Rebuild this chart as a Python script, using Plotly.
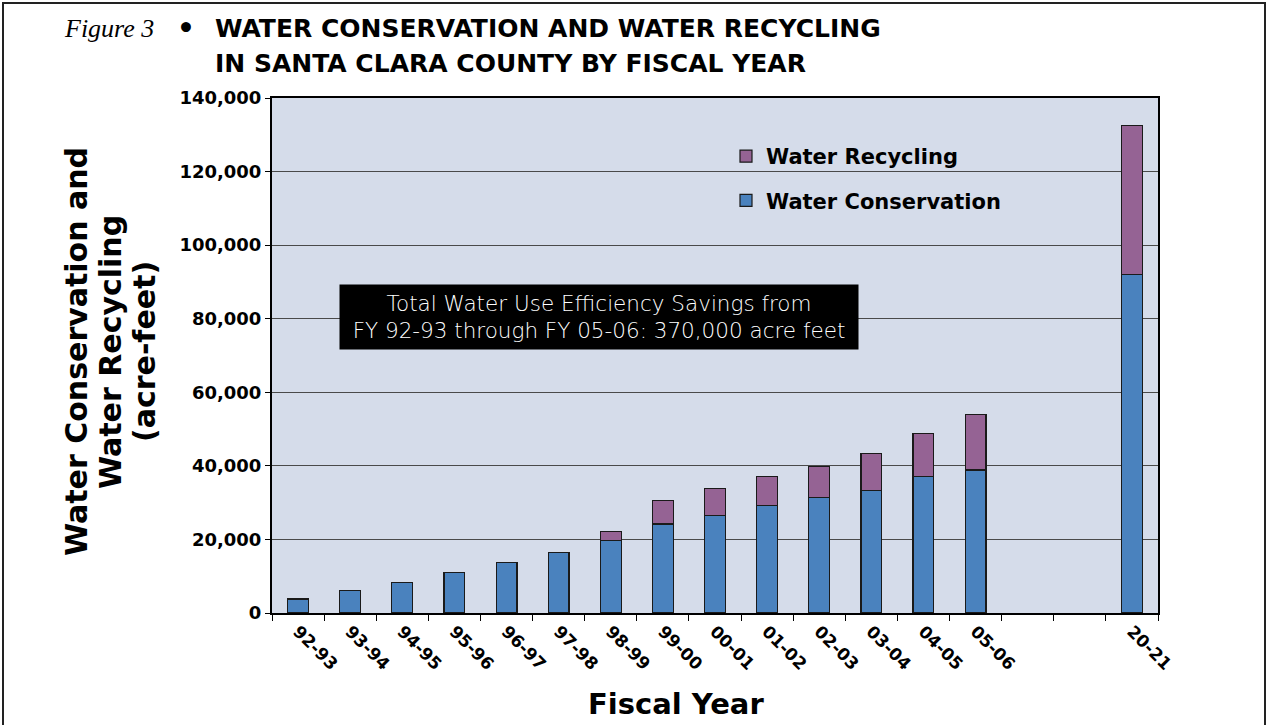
import plotly.graph_objects as go

# ---- data ----
fiscal_years = ["92-93", "93-94", "94-95", "95-96", "96-97", "97-98", "98-99",
                "99-00", "00-01", "01-02", "02-03", "03-04", "04-05", "05-06", "20-21"]
axis_categories = ["92-93", "93-94", "94-95", "95-96", "96-97", "97-98", "98-99",
                   "99-00", "00-01", "01-02", "02-03", "03-04", "04-05", "05-06",
                   " ", "  ", "20-21"]
water_conservation = [3800, 6200, 8300, 11000, 13800, 16400, 19700,
                      24200, 26500, 29200, 31400, 33300, 37200, 38900, 92100]
water_recycling = [0, 0, 0, 0, 0, 0, 2400,
                   6400, 7300, 7900, 8500, 10000, 11500, 15100, 40400]
y_tick_vals = [0, 20000, 40000, 60000, 80000, 100000, 120000, 140000]
y_tick_text = ["0", "20,000", "40,000", "60,000", "80,000", "100,000", "120,000", "140,000"]
y_title_lines = ["Water Conservation and", "Water Recycling", "(acre-feet)"]

BLUE = "#4A82BE"
PURPLE = "#956394"
BG = "#D5DCEA"
BOLD = "DejaVu Sans"

# pixel geometry helpers (plot area 272..1158 x 98..613)
L, R, T, B = 272, 1158, 98, 613
def px(x):
    return (x - L) / (R - L)
def py(y):
    return (B - y) / (B - T)

fig = go.Figure()
fig.add_trace(go.Bar(
    x=fiscal_years, y=water_conservation, name="Water Conservation",
    marker=dict(color=BLUE, line=dict(color="#1a1a1a", width=1.2)),
    legendgroup="c", legendrank=2,
))
fig.add_trace(go.Bar(
    x=fiscal_years, y=water_recycling, name="Water Recycling",
    marker=dict(color=PURPLE, line=dict(color="#1a1a1a", width=1.2)),
    legendgroup="r", legendrank=1,
))

fig.update_layout(
    width=1268, height=725,
    barmode="stack", bargap=0.6,
    paper_bgcolor="white", plot_bgcolor=BG,
    margin=dict(l=L, r=1268 - R, t=T, b=725 - B, autoexpand=False),
    font=dict(family=BOLD, color="black"),
    legend=dict(
        x=px(726), y=py(136), xanchor="left", yanchor="top",
        bgcolor="rgba(0,0,0,0)", traceorder="grouped", tracegroupgap=14,
        font=dict(family=BOLD, size=21, color="black", weight="bold"),
    ),
    showlegend=True,
)

fig.update_xaxes(
    type="category", categoryorder="array", categoryarray=axis_categories,
    range=[-0.5, 16.5], tickson="boundaries", ticks="outside", ticklen=6,
    tickcolor="black", tickangle=45,
    tickfont=dict(family=BOLD, size=17, color="black", weight="bold"),
    showline=True, linecolor="black", linewidth=1.5, mirror=True,
    showgrid=False,
)
fig.update_yaxes(
    range=[0, 140000], tickvals=y_tick_vals, ticktext=y_tick_text,
    ticks="outside", ticklen=5, tickcolor="black",
    tickfont=dict(family=BOLD, size=18, color="black", weight="bold"),
    showline=True, linecolor="black", linewidth=2, mirror=True,
    showgrid=True, gridcolor="#4a4a4a", gridwidth=1.1,
    zeroline=False,
)

annotations = [
    dict(text="<i>Figure 3</i>", x=px(62), y=py(29), xanchor="left", yanchor="middle",
         font=dict(family="Liberation Serif", size=26, color="black")),
    dict(text="•", x=px(186), y=py(29), xanchor="center", yanchor="middle",
         font=dict(family=BOLD, size=28, color="black", weight="bold")),
    dict(text="WATER CONSERVATION AND WATER RECYCLING", x=px(213), y=py(29),
         xanchor="left", yanchor="middle",
         font=dict(family=BOLD, size=25, color="black", weight="bold")),
    dict(text="IN SANTA CLARA COUNTY BY FISCAL YEAR", x=px(213), y=py(63),
         xanchor="left", yanchor="middle",
         font=dict(family=BOLD, size=25, color="black", weight="bold")),
    dict(text="Fiscal Year", x=px(676), y=py(704), xanchor="center", yanchor="middle",
         font=dict(family=BOLD, size=29, color="black", weight="bold")),
    dict(text="Total Water Use Efficiency Savings from<br>FY 92-93 through FY 05-06: 370,000 acre feet",
         x=px(599), y=py(317), xanchor="center", yanchor="middle",
         bgcolor="black", borderpad=3, width=512, height=58,
         font=dict(family="DejaVu Sans", size=21.5, color="white", weight=200)),
]
for line, cx in zip(y_title_lines, [76, 110, 144]):
    annotations.append(dict(text=line, x=px(cx), y=py(352), xanchor="center",
                            yanchor="middle", textangle=-90,
                            font=dict(family=BOLD, size=30, color="black", weight="bold")))
for a in annotations:
    a.update(xref="paper", yref="paper", showarrow=False)
fig.update_layout(annotations=annotations)

fig.add_shape(type="rect", xref="paper", yref="paper",
              x0=px(3), x1=px(1265), y0=py(740), y1=py(3),
              line=dict(color="#222", width=2), layer="above")

fig.write_html("out.html", config={"displayModeBar": False},
               post_script="document.body.style.margin='0';document.body.style.overflow='hidden';")
